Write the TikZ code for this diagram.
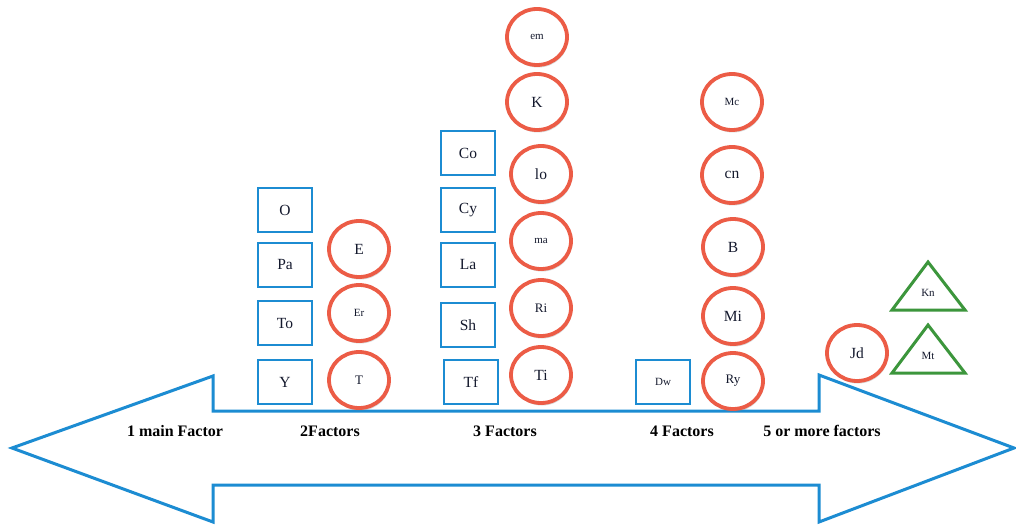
\documentclass[tikz,border=0pt]{standalone}
\usepackage{fontspec}
\setmainfont{Liberation Serif}
\usetikzlibrary{shadows,shapes.geometric}
\definecolor{boxblue}{RGB}{28,140,210}
\definecolor{circred}{RGB}{236,92,70}
\definecolor{trigreen}{RGB}{60,150,60}
\definecolor{txt}{RGB}{20,25,45}
\tikzset{
  fbox/.style={draw=boxblue, line width=2.6pt, minimum width=54pt, minimum height=44pt, inner sep=0pt, text=txt, font=\fontsize{15.5}{15.5}\selectfont},
  fcirc/.style={ellipse, draw=circred, line width=3.8pt, fill=white, minimum width=60pt, minimum height=56pt, inner sep=0pt, text=txt,
     drop shadow={opacity=0.3, shadow xshift=1pt, shadow yshift=-2.5pt}, font=\fontsize{15.5}{15.5}\selectfont},
  small/.style={font=\fontsize{11}{11}\selectfont},
  mid/.style={font=\fontsize{13}{13}\selectfont},
  ftri/.style={draw=trigreen, line width=3pt, fill=white, text=txt, font=\fontsize{11}{11}\selectfont},
  flabel/.style={font=\bfseries\fontsize{16}{16}\selectfont, text=black}
}
\begin{document}
\begin{tikzpicture}[x=1pt,y=-1pt]
\useasboundingbox (0,0) rectangle (1016,529);
\fill[white] (0,0) rectangle (1016,529);
% double arrow
\draw[boxblue, line width=3pt, line join=miter, fill=white]
  (12,448) -- (213,376) -- (213,411) -- (819,411) -- (819,375) -- (1014,448)
  -- (819,522) -- (819,485) -- (213,485) -- (213,522) -- cycle;
% labels
\node[flabel] (l1) at (175,431) {1 main Factor};
\node[flabel] (l2) at (330,431) {2Factors};
\node[flabel] (l3) at (505,431) {3 Factors};
\node[flabel] (l4) at (682,431) {4 Factors};
\node[flabel] (l5) at (822,431) {5 or more factors};
% 2 factors boxes
\node[fbox] (O) at (285,210) {O};
\node[fbox] (Pa) at (285,265) {Pa};
\node[fbox] (To) at (285,323) {To};
\node[fbox] (Y) at (285,382) {Y};
% 2 factors circles
\node[fcirc] (E) at (359,249) {E};
\node[fcirc,small] (Er) at (359,313) {Er};
\node[fcirc,mid] (T) at (359,380) {T};
% 3 factors boxes
\node[fbox] (Co) at (468,153) {Co};
\node[fbox] (Cy) at (468,210) {Cy};
\node[fbox] (La) at (468,265) {La};
\node[fbox] (Sh) at (468,325) {Sh};
\node[fbox] (Tf) at (471,382) {Tf};
% 3 factors circles
\node[fcirc,small] (em) at (537,37) {em};
\node[fcirc] (K) at (537,102) {K};
\node[fcirc] (lo) at (541,174) {lo};
\node[fcirc,small] (ma) at (541,241) {ma};
\node[fcirc,mid] (Ri) at (541,308) {Ri};
\node[fcirc] (Ti) at (541,375) {Ti};
% 4 factors
\node[fbox,small] (Dw) at (663,382) {Dw};
\node[fcirc,small] (Mc) at (732,102) {Mc};
\node[fcirc] (cn) at (732,175) {cn};
\node[fcirc] (B) at (733,247) {B};
\node[fcirc] (Mi) at (733,316) {Mi};
\node[fcirc,mid] (Ry) at (733,381) {Ry};
% 5 or more
\node[fcirc] (Jd) at (857,353) {Jd};
\coordinate (kna) at (928,262);
\coordinate (knl) at (892,310);
\coordinate (knr) at (965,310);
\draw[ftri] (kna) -- (knr) -- (knl) -- cycle;
\node[ftri,draw=none,fill=none] (Kn) at (928,293) {Kn};
\coordinate (mta) at (928,325);
\coordinate (mtl) at (892,373);
\coordinate (mtr) at (965,373);
\draw[ftri] (mta) -- (mtr) -- (mtl) -- cycle;
\node[ftri,draw=none,fill=none] (Mt) at (928,356) {Mt};
\end{tikzpicture}
\end{document}
